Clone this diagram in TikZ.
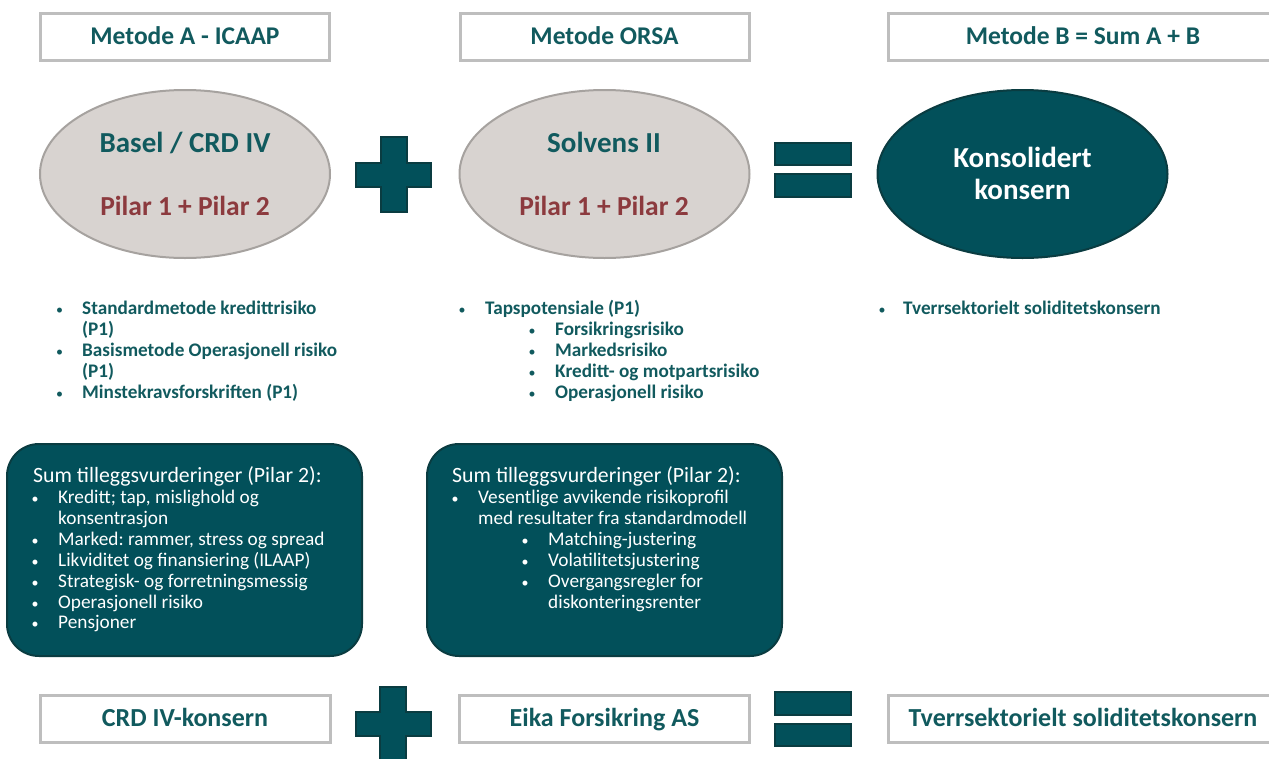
\documentclass[tikz,border=0pt]{standalone}
\usepackage{fontspec}
\setmainfont{Carlito}
\usetikzlibrary{shapes.geometric}
\definecolor{tealfill}{HTML}{02505A}
\definecolor{tealdk}{HTML}{0A3C41}
\definecolor{tealtxt}{HTML}{115A5E}
\definecolor{redtxt}{HTML}{8C3A3E}
\definecolor{ellfill}{HTML}{D8D3D0}
\definecolor{elldraw}{HTML}{A6A29F}
\definecolor{boxdraw}{HTML}{BEBEBE}
\begin{document}
\begin{tikzpicture}[x=1pt,y=-1pt,
  hdrbox/.style={draw=boxdraw, line width=3pt, fill=white, minimum height=47pt, inner sep=0pt,
     font=\fontsize{25.5}{28}\selectfont\bfseries, text=tealtxt, text height=16.5pt, text depth=0pt},
  botbox/.style={hdrbox, font=\fontsize{26}{28}\selectfont\bfseries, text height=16.8pt},
  ellbox/.style={ellipse, draw=elldraw, line width=2pt, fill=ellfill, minimum width=290pt, minimum height=168pt, inner sep=0pt},
  elltxt/.style={anchor=base, inner sep=0pt, font=\fontsize{29}{31}\selectfont\bfseries},
  pilartxt/.style={elltxt, font=\fontsize{27.5}{30}\selectfont\bfseries, text=redtxt},
  listtxt/.style={anchor=base west, inner sep=0pt, font=\fontsize{19.2}{21}\selectfont\bfseries, text=tealtxt},
  listbul/.style={anchor=base, inner sep=0pt, font=\fontsize{14}{16}\selectfont, text=tealtxt},
  pilbox/.style={draw=tealdk, line width=2pt, fill=tealfill, rounded corners=32pt, minimum width=355pt, minimum height=212pt, inner sep=0pt},
  boxhdr/.style={anchor=base west, inner sep=0pt, font=\fontsize{21.8}{23}\selectfont, text=white},
  boxtxt/.style={anchor=base west, inner sep=0pt, font=\fontsize{19.3}{21}\selectfont, text=white},
  boxbul/.style={anchor=base, inner sep=0pt, font=\fontsize{14}{16}\selectfont, text=white},
  sign/.style={fill=tealfill, draw=tealdk, line width=2.5pt}
]
\useasboundingbox (0,0) rectangle (1269,758);
\clip (0,0) rectangle (1269,758);

% header boxes
\node[hdrbox, minimum width=289pt] (hdrA) at (185,36.5) {Metode A - ICAAP};
\node[hdrbox, minimum width=289pt] (hdrO) at (604.5,36.5) {Metode ORSA};
\node[hdrbox, minimum width=390pt] (hdrB) at (1083,36.5) {Metode B = Sum A + B};

% ellipses
\node[ellbox] (ellA) at (185,174) {};
\node[ellbox] (ellO) at (604.5,174) {};
\node[ellbox, draw=tealdk, fill=tealfill] (ellB) at (1022.5,174) {};
\node[elltxt, text=tealtxt] (ellA1) at (185,152) {Basel / CRD IV};
\node[pilartxt] (ellA2) at (185,215) {Pilar 1 + Pilar 2};
\node[elltxt, text=tealtxt] (ellO1) at (604,152) {Solvens II};
\node[pilartxt] (ellO2) at (604,215) {Pilar 1 + Pilar 2};
\node[elltxt, text=white] (ellB1) at (1022.5,167) {Konsolidert};
\node[elltxt, text=white] (ellB2) at (1022.5,199) {konsern};

% plus and equals (top)
\path[sign] (381,137) -- (407,137) -- (407,163) -- (431,163) -- (431,187) -- (407,187) -- (407,212) -- (381,212) -- (381,187) -- (356,187) -- (356,163) -- (381,163) -- cycle;
\path[sign] (775,143) rectangle (851,165);
\path[sign] (775,174) rectangle (851,197);

% left list
\node[listbul] (la1b) at (59.5,314) {\textbullet};
\node[listtxt] (la1) at (82,314) {Standardmetode kredittrisiko};
\node[listtxt] (la1c) at (82,335) {(P1)};
\node[listbul] (la2b) at (59.5,356) {\textbullet};
\node[listtxt] (la2) at (82,356) {Basismetode Operasjonell risiko};
\node[listtxt] (la2c) at (82,377) {(P1)};
\node[listbul] (la3b) at (59.5,398) {\textbullet};
\node[listtxt] (la3) at (82,398) {Minstekravsforskriften (P1)};

% middle list
\node[listbul] (lo1b) at (462,314) {\textbullet};
\node[listtxt] (lo1) at (485,314) {Tapspotensiale (P1)};
\node[listbul] (lo2b) at (532,335) {\textbullet};
\node[listtxt] (lo2) at (555,335) {Forsikringsrisiko};
\node[listbul] (lo3b) at (532,356) {\textbullet};
\node[listtxt] (lo3) at (555,356) {Markedsrisiko};
\node[listbul] (lo4b) at (532,377) {\textbullet};
\node[listtxt] (lo4) at (555,377) {Kreditt- og motpartsrisiko};
\node[listbul] (lo5b) at (532,398) {\textbullet};
\node[listtxt] (lo5) at (555,398) {Operasjonell risiko};

% right list
\node[listbul] (lb1b) at (882,314) {\textbullet};
\node[listtxt] (lb1) at (903,314) {Tverrsektorielt soliditetskonsern};

% pillar 2 boxes
\node[pilbox] (boxA) at (184.5,550) {};
\node[pilbox] (boxO) at (604.5,550) {};

\node[boxhdr] (bA0) at (33,482) {Sum tilleggsvurderinger (Pilar 2):};
\node[boxbul] (bA1b) at (35,503.5) {\textbullet};
\node[boxtxt] (bA1) at (58,503.5) {Kreditt; tap, mislighold og};
\node[boxtxt] (bA1c) at (58,524.5) {konsentrasjon};
\node[boxbul] (bA2b) at (35,545.5) {\textbullet};
\node[boxtxt] (bA2) at (58,545.5) {Marked:\hspace{-1.5pt} rammer, stress og spread};
\node[boxbul] (bA3b) at (35,566) {\textbullet};
\node[boxtxt] (bA3) at (58,566) {Likviditet og finansiering (ILAAP)};
\node[boxbul] (bA4b) at (35,587) {\textbullet};
\node[boxtxt] (bA4) at (58,587) {Strategisk- og forretningsmessig};
\node[boxbul] (bA5b) at (35,608) {\textbullet};
\node[boxtxt] (bA5) at (58,608) {Operasjonell risiko};
\node[boxbul] (bA6b) at (35,628.5) {\textbullet};
\node[boxtxt] (bA6) at (58,628.5) {Pensjoner};

\node[boxhdr] (bO0) at (452,482) {Sum tilleggsvurderinger (Pilar 2):};
\node[boxbul] (bO1b) at (455,503.5) {\textbullet};
\node[boxtxt] (bO1) at (478,503.5) {Vesentlige avvikende risikoprofil};
\node[boxtxt] (bO1c) at (478,524.5) {med resultater fra standardmodell};
\node[boxbul] (bO2b) at (525,545.5) {\textbullet};
\node[boxtxt] (bO2) at (548,545.5) {Matching-justering};
\node[boxbul] (bO3b) at (525,566) {\textbullet};
\node[boxtxt] (bO3) at (548,566) {Volatilitetsjustering};
\node[boxbul] (bO4b) at (525,587) {\textbullet};
\node[boxtxt] (bO4) at (548,587) {Overgangsregler for};
\node[boxtxt] (bO4c) at (548,608) {diskonteringsrenter};

% bottom row
\node[botbox, minimum width=290pt] (botA) at (185,718.5) {CRD IV-konsern};
\path[sign] (380,687) -- (406,687) -- (406,712) -- (431,712) -- (431,736) -- (406,736) -- (406,765) -- (380,765) -- (380,736) -- (356,736) -- (356,712) -- (380,712) -- cycle;
\node[botbox, minimum width=290pt] (botO) at (604.5,718.5) {Eika Forsikring AS};
\path[sign] (775,692) rectangle (851,715);
\path[sign] (775,724) rectangle (851,746);
\node[botbox, minimum width=390pt] (botB) at (1083,718.5) {Tverrsektorielt soliditetskonsern};
\end{tikzpicture}
\end{document}
